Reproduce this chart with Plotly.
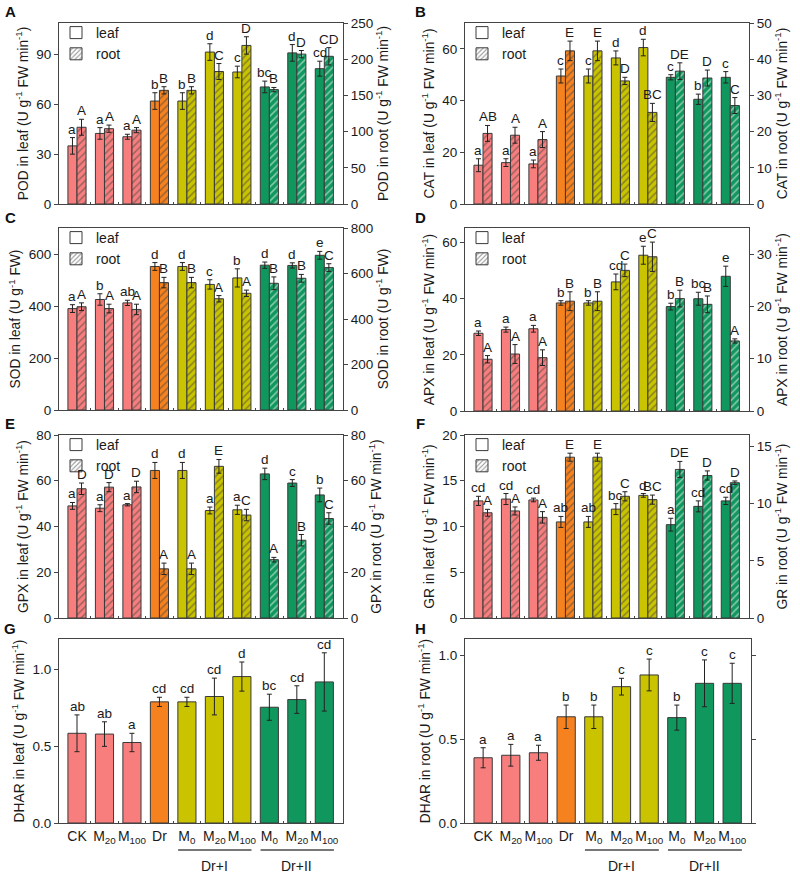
import plotly.graph_objects as go

# ---------------- data ----------------
categories = ["CK", "M20", "M100", "Dr", "M0", "M20", "M100", "M0", "M20", "M100"]
tick_labels = ["CK", "M<sub>20</sub>", "M<sub>100</sub>", "Dr", "M<sub>0</sub>", "M<sub>20</sub>",
               "M<sub>100</sub>", "M<sub>0</sub>", "M<sub>20</sub>", "M<sub>100</sub>"]
group_labels = ["Dr+I", "Dr+II"]

# A  POD
pod_leaf = [35, 42.5, 40.5, 62, 62, 91.5, 79.5, 70.5, 91, 81.5]
pod_leaf_err = [5, 3.5, 1.5, 5, 5, 5, 3.5, 3.5, 5, 4.5]
pod_root = [106, 104, 102, 157, 157, 183, 219, 158, 207, 204]
pod_root_err = [11, 5, 3.5, 5, 5, 11, 12, 3, 5, 12]
pod_leaf_sig = ["a", "a", "a", "b", "b", "d", "c", "bc", "d", "cd"]
pod_root_sig = ["A", "A", "A", "B", "B", "C", "D", "B", "D", "CD"]

# B  CAT
cat_leaf = [15, 16, 15.5, 49.5, 49.5, 56.5, 60.5, 49, 40.5, 49]
cat_leaf_err = [2.5, 1.5, 1.5, 2.7, 2.7, 2.7, 3.2, 1.0, 2.0, 2.2]
cat_root = [19.5, 19, 17.8, 42.3, 42.3, 34, 25.3, 36.7, 34.8, 27.2]
cat_root_err = [2.2, 2.2, 2.2, 2.7, 2.7, 1.0, 2.5, 2.3, 2.2, 2.2]
cat_leaf_sig = ["a", "a", "a", "c", "c", "d", "d", "c", "b", "c"]
cat_root_sig = ["AB", "A", "A", "E", "E", "D", "BC", "DE", "D", "C"]

# C  SOD
sod_leaf = [390, 425, 412, 552, 552, 483, 508, 557, 556, 595]
sod_leaf_err = [15, 22, 10, 15, 15, 18, 35, 12, 10, 15]
sod_root = [454, 446, 442, 560, 560, 489, 513, 557, 579, 626]
sod_root_err = [17, 19, 23, 23, 23, 14, 14, 28, 17, 17]
sod_leaf_sig = ["a", "b", "ab", "d", "d", "c", "b", "d", "d", "e"]
sod_root_sig = ["A", "A", "A", "B", "B", "A", "A", "B", "B", "C"]

# D  APX
apx_leaf = [27.7, 29, 29.3, 38.5, 38.5, 46, 55.5, 37.2, 40, 48]
apx_leaf_err = [0.8, 0.9, 1.2, 0.8, 0.8, 2.8, 3.2, 1.2, 2.3, 3.6]
apx_root = [9.9, 10.9, 10.2, 21, 21, 26.9, 29.5, 21.5, 20.4, 13.4]
apx_root_err = [0.7, 1.8, 1.5, 1.8, 1.8, 1.2, 2.8, 1.6, 1.6, 0.4]
apx_leaf_sig = ["a", "a", "a", "b", "b", "cd", "e", "b", "bc", "e"]
apx_root_sig = ["A", "A", "A", "B", "B", "C", "C", "B", "B", "A"]

# E  GPX
gpx_leaf = [49, 48, 49.5, 64.5, 64.5, 47, 47.3, 63, 59, 53.8]
gpx_leaf_err = [1.5, 1.5, 0.5, 3.5, 3.5, 1.5, 2.0, 2.5, 1.5, 3.0]
gpx_root = [56.5, 57.2, 57.3, 21.5, 21.5, 66.3, 45, 25.5, 34, 43.5]
gpx_root_err = [2.5, 2.0, 2.5, 2.5, 2.5, 3.0, 2.5, 1.0, 2.5, 2.5]
gpx_leaf_sig = ["a", "a", "a", "d", "d", "a", "a", "d", "c", "b"]
gpx_root_sig = ["D", "D", "D", "A", "A", "E", "C", "A", "B", "C"]

# F  GR
gr_leaf = [12.8, 13, 12.9, 10.5, 10.5, 11.9, 13.4, 10.2, 12.2, 12.8]
gr_leaf_err = [0.5, 0.6, 0.2, 0.6, 0.6, 0.6, 0.2, 0.7, 0.6, 0.4]
gr_root = [9.2, 9.36, 8.8, 14.06, 14.06, 10.64, 10.35, 12.99, 12.46, 11.83]
gr_root_err = [0.3, 0.35, 0.5, 0.35, 0.35, 0.4, 0.4, 0.7, 0.4, 0.15]
gr_leaf_sig = ["cd", "cd", "cd", "ab", "ab", "bc", "d", "a", "cd", "cd"]
gr_root_sig = ["A", "A", "A", "E", "E", "C", "BC", "DE", "D", "D"]

# G  DHAR leaf
dhar_leaf = [0.585, 0.58, 0.525, 0.79, 0.79, 0.825, 0.955, 0.755, 0.805, 0.92]
dhar_leaf_err = [0.12, 0.08, 0.06, 0.03, 0.03, 0.12, 0.095, 0.085, 0.09, 0.19]
dhar_leaf_sig = ["ab", "ab", "a", "cd", "cd", "cd", "d", "bc", "cd", "cd"]

# H  DHAR root
dhar_root = [0.39, 0.405, 0.42, 0.635, 0.635, 0.815, 0.885, 0.63, 0.835, 0.835]
dhar_root_err = [0.06, 0.065, 0.045, 0.07, 0.07, 0.05, 0.095, 0.075, 0.14, 0.12]
dhar_root_sig = ["a", "a", "a", "b", "b", "c", "c", "b", "c", "c"]

# ---------------- style ----------------
W, H = 800, 878
PINK, ORANGE, OLIVE, GREEN = "#F87E7E", "#F5821F", "#C9C300", "#10975E"
bar_colors = [PINK] * 3 + [ORANGE] + [OLIVE] * 3 + [GREEN] * 3
EDGE = "#3a3a3a"
FONT = "Liberation Sans, Arial, sans-serif"
TXT = "#1a1a1a"
pos = list(range(len(categories)))
XR = [-0.655, 9.68]
BW = 0.33
TICKF = 13.5
TITLEF = 13.8
SIGF = 13.5

panels = [
    dict(letter="A", box=(59, 343, 23, 204),
         leaf=pod_leaf, leaf_err=pod_leaf_err, root=pod_root, root_err=pod_root_err,
         leaf_sig=pod_leaf_sig, root_sig=pod_root_sig,
         yl=[0, 109], ylt=[0, 30, 60, 90], yr=[0, 250], yrt=[0, 50, 100, 150, 200, 250],
         tl="POD in leaf (U g<sup>-1</sup> FW min<sup>-1</sup>)",
         tr="POD in root (U g<sup>-1</sup> FW min<sup>-1</sup>)"),
    dict(letter="B", box=(465, 749, 23, 204),
         leaf=cat_leaf, leaf_err=cat_leaf_err, root=cat_root, root_err=cat_root_err,
         leaf_sig=cat_leaf_sig, root_sig=cat_root_sig,
         yl=[0, 70], ylt=[0, 20, 40, 60], yr=[0, 50], yrt=[0, 10, 20, 30, 40, 50],
         tl="CAT in leaf (U g<sup>-1</sup> FW min<sup>-1</sup>)",
         tr="CAT in root (U g<sup>-1</sup> FW min<sup>-1</sup>)"),
    dict(letter="C", box=(59, 343, 228, 410),
         leaf=sod_leaf, leaf_err=sod_leaf_err, root=sod_root, root_err=sod_root_err,
         leaf_sig=sod_leaf_sig, root_sig=sod_root_sig,
         yl=[0, 700], ylt=[0, 200, 400, 600], yr=[0, 800], yrt=[0, 200, 400, 600, 800],
         tl="SOD in leaf (U g<sup>-1</sup> FW)",
         tr="SOD in root (U g<sup>-1</sup> FW)"),
    dict(letter="D", box=(465, 749, 228, 411),
         leaf=apx_leaf, leaf_err=apx_leaf_err, root=apx_root, root_err=apx_root_err,
         leaf_sig=apx_leaf_sig, root_sig=apx_root_sig,
         yl=[0, 65.2], ylt=[0, 20, 40, 60], yr=[0, 35], yrt=[0, 10, 20, 30],
         tl="APX in leaf (U g<sup>-1</sup> FW min<sup>-1</sup>)",
         tr="APX in root (U g<sup>-1</sup> FW min<sup>-1</sup>)"),
    dict(letter="E", box=(59, 343, 435, 618),
         leaf=gpx_leaf, leaf_err=gpx_leaf_err, root=gpx_root, root_err=gpx_root_err,
         leaf_sig=gpx_leaf_sig, root_sig=gpx_root_sig,
         yl=[0, 80], ylt=[0, 20, 40, 60, 80], yr=[0, 80], yrt=[0, 20, 40, 60, 80],
         tl="GPX in leaf (U g<sup>-1</sup> FW min<sup>-1</sup>)",
         tr="GPX in root (U g<sup>-1</sup> FW min<sup>-1</sup>)"),
    dict(letter="F", box=(465, 749, 435, 618),
         leaf=gr_leaf, leaf_err=gr_leaf_err, root=gr_root, root_err=gr_root_err,
         leaf_sig=gr_leaf_sig, root_sig=gr_root_sig,
         yl=[0, 20], ylt=[0, 5, 10, 15, 20], yr=[0, 16], yrt=[0, 5, 10, 15],
         tl="GR in leaf (U g<sup>-1</sup> FW min<sup>-1</sup>)",
         tr="GR in root (U g<sup>-1</sup> FW min<sup>-1</sup>)"),
    dict(letter="G", box=(59, 343, 639, 823), single=dhar_leaf, single_err=dhar_leaf_err,
         single_sig=dhar_leaf_sig, yl=[0, 1.2], ylt=[0, 0.5, 1.0],
         tl="DHAR in leaf (U g<sup>-1</sup> FW min<sup>-1</sup>)"),
    dict(letter="H", box=(465, 751, 639, 823), single=dhar_root, single_err=dhar_root_err,
         single_sig=dhar_root_sig, yl=[0, 1.1], ylt=[0, 0.5, 1.0],
         tl="DHAR in root (U g<sup>-1</sup> FW min<sup>-1</sup>)"),
]

fig = go.Figure()
layout = dict(width=W, height=H, margin=dict(l=0, r=0, t=0, b=0, autoexpand=False),
              template="none",
              paper_bgcolor="white", plot_bgcolor="white", showlegend=True,
              barmode="overlay", font=dict(family=FONT, size=13, color=TXT))
annotations = []
shapes = []


def ax_name(prefix, n):
    return prefix + ("" if n == 1 else str(n))


def err(arr):
    return dict(type="data", array=arr, color="#222", thickness=1, width=2.5)


for k, p in enumerate(panels):
    x0, x1, y0, y1 = p["box"]
    xn = k + 1
    yl_n = k + 1
    yr_n = k + 9
    xref = ax_name("x", xn)
    ylref = ax_name("y", yl_n)
    yrref = ax_name("y", yr_n)
    xdom = [x0 / W, x1 / W]
    ydom = [1 - y1 / H, 1 - y0 / H]
    bottom = k >= 6

    layout[ax_name("xaxis", xn)] = dict(
        domain=xdom, range=XR, anchor=ylref, showline=True, linecolor="#444", linewidth=1,
        mirror=True, showgrid=False, zeroline=False, automargin=False,
        tickmode="array", tickvals=pos, ticktext=tick_labels if bottom else [""] * len(pos),
        ticks="", showticklabels=bottom, tickfont=dict(size=14), tickangle=0,
        minor=dict(tickmode="array", tickvals=[i + 0.5 for i in pos[:-1]],
                   ticks="inside", ticklen=2, tickcolor="#444", tickwidth=1),
    )
    layout[ax_name("yaxis", yl_n)] = dict(
        domain=ydom, range=p["yl"], anchor=xref, tickmode="array", tickvals=p["ylt"],
        ticks="outside", ticklen=4, tickcolor="#444", showline=True, linecolor="#444",
        linewidth=1, showgrid=False, zeroline=False, tickfont=dict(size=TICKF),
        automargin=False, tickformat=".1f" if bottom else None,
        mirror=("ticks" if k == 7 else (True if k == 6 else False)),
        title=dict(text=p["tl"], font=dict(size=TITLEF), standoff=4),
    )

    if not bottom:
        layout[ax_name("yaxis", yr_n)] = dict(
            overlaying=ylref, side="right", anchor=xref, range=p["yr"], tickmode="array",
            tickvals=p["yrt"], ticks="outside", ticklen=4, tickcolor="#444", showline=True,
            linecolor="#444", linewidth=1, showgrid=False, zeroline=False, automargin=False,
            tickfont=dict(size=TICKF),
            title=dict(text=p["tr"], font=dict(size=TITLEF), standoff=3),
        )
        lg = ax_name("legend", k + 1)
        fig.add_trace(go.Bar(
            x=pos, y=p["leaf"], xaxis=xref, yaxis=ylref, offset=-BW, width=BW,
            marker=dict(color=bar_colors, line=dict(color=EDGE, width=1)),
            error_y=err(p["leaf_err"]), showlegend=False))
        fig.add_trace(go.Bar(
            x=pos, y=p["root"], xaxis=xref, yaxis=yrref, offset=0, width=BW,
            marker=dict(color=bar_colors, line=dict(color=EDGE, width=1),
                        pattern=dict(shape="/", fillmode="overlay", fgcolor="#333",
                                     size=5, solidity=0.3)),
            error_y=err(p["root_err"]), showlegend=False))
        # legend-only entries
        fig.add_trace(go.Bar(
            x=[None], y=[None], xaxis=xref, yaxis=ylref, name="leaf", legend=lg,
            marker=dict(color="white", line=dict(color=EDGE, width=1))))
        fig.add_trace(go.Bar(
            x=[None], y=[None], xaxis=xref, yaxis=ylref, name="root", legend=lg,
            marker=dict(color="white", line=dict(color=EDGE, width=1),
                        pattern=dict(shape="/", fillmode="overlay", fgcolor="#333",
                                     size=4, solidity=0.35))))
        layout[lg] = dict(x=(x0 - 3) / W, y=1 - (y0 - 6) / H, xanchor="left", yanchor="top",
                          bgcolor="rgba(0,0,0,0)", font=dict(size=14), tracegroupgap=0,
                          itemwidth=30, borderwidth=0)
        for i in pos:
            annotations.append(dict(
                x=i - BW / 2, y=p["leaf"][i] + p["leaf_err"][i], xref=xref, yref=ylref,
                text=p["leaf_sig"][i], showarrow=False, yanchor="bottom", yshift=-1,
                font=dict(size=SIGF)))
            annotations.append(dict(
                x=i + BW / 2, y=p["root"][i] + p["root_err"][i], xref=xref, yref=yrref,
                text=p["root_sig"][i], showarrow=False, yanchor="bottom", yshift=-1,
                font=dict(size=SIGF)))
    else:
        fig.add_trace(go.Bar(
            x=pos, y=p["single"], xaxis=xref, yaxis=ylref, offset=-BW, width=2 * BW,
            marker=dict(color=bar_colors, line=dict(color=EDGE, width=1)),
            error_y=err(p["single_err"]), showlegend=False))
        for i in pos:
            annotations.append(dict(
                x=i, y=p["single"][i] + p["single_err"][i], xref=xref, yref=ylref,
                text=p["single_sig"][i], showarrow=False, yanchor="bottom", yshift=-1,
                font=dict(size=SIGF)))
        # group brackets
        line_y = 1 - 850 / H
        for gi, (a, b) in enumerate([(4, 6), (7, 9)]):
            shapes.append(dict(type="line", xref=xref, yref="paper",
                               x0=a - 0.32, x1=b + 0.35, y0=line_y, y1=line_y,
                               line=dict(color="#777", width=2)))
            annotations.append(dict(
                x=(a + b) / 2, y=1 - 866 / H, xref=xref, yref="paper",
                text=group_labels[gi], showarrow=False, yanchor="middle",
                font=dict(size=14)))

    # panel letter
    annotations.append(dict(
        x=(10 if x0 < 400 else 420) / W, y=1 - (y0 - 11) / H, xref="paper", yref="paper",
        text="<b>%s</b>" % p["letter"], showarrow=False, xanchor="center", yanchor="middle",
        font=dict(size=15, color="#111")))

layout["annotations"] = annotations
layout["shapes"] = shapes
fig.update_layout(**layout)
fig.write_html("out.html", config={"displayModeBar": False},
               post_script="document.body.style.margin='0';")
